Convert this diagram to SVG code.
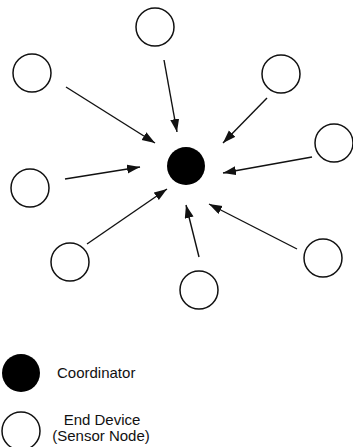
<svg xmlns="http://www.w3.org/2000/svg" width="353" height="447" viewBox="0 0 353 447">
  <style>
    .end { fill: #fff; stroke: #111; stroke-width: 1.5; }
    .coord { fill: #000; }
    .link { stroke: #111; stroke-width: 1.4; fill: none; marker-end: url(#head); }
    .label { font-family: "Liberation Sans", Arial, sans-serif; font-size: 15px; fill: #111; }
  </style>
  <defs>
    <marker id="head" markerUnits="userSpaceOnUse" markerWidth="14" markerHeight="10" refX="13" refY="4.5" orient="auto">
      <path d="M0,0 L13,4.5 L0,9 z" fill="#111"/>
    </marker>
  </defs>
  <rect width="353" height="447" fill="#fff"/>

  <!-- connectors: every end device reports to the coordinator -->
  <g id="connectors">
    <line class="link" x1="66" y1="87" x2="155" y2="143"/>
    <line class="link" x1="164" y1="60" x2="177" y2="132"/>
    <line class="link" x1="267" y1="98" x2="223" y2="143"/>
    <line class="link" x1="312" y1="157" x2="223" y2="173"/>
    <line class="link" x1="65" y1="179" x2="140" y2="167"/>
    <line class="link" x1="87" y1="244" x2="167" y2="189"/>
    <line class="link" x1="199" y1="257" x2="186" y2="205"/>
    <line class="link" x1="297" y1="249" x2="209" y2="204"/>
  </g>

  <!-- star network nodes -->
  <g id="coordinator"><circle class="coord" cx="186" cy="166" r="19"/></g>
  <g id="end-top"><circle class="end" cx="155" cy="27" r="19"/></g>
  <g id="end-top-left"><circle class="end" cx="32" cy="73" r="19"/></g>
  <g id="end-top-right"><circle class="end" cx="281" cy="74" r="19"/></g>
  <g id="end-right"><circle class="end" cx="334" cy="143" r="19"/></g>
  <g id="end-left"><circle class="end" cx="30" cy="188" r="19"/></g>
  <g id="end-bottom-left"><circle class="end" cx="70" cy="262" r="19"/></g>
  <g id="end-bottom"><circle class="end" cx="199" cy="290" r="19"/></g>
  <g id="end-bottom-right"><circle class="end" cx="323" cy="258" r="19"/></g>

  <!-- legend -->
  <g id="legend-coordinator">
    <circle class="coord" cx="21" cy="373" r="19"/>
    <text class="label" x="57" y="378">Coordinator</text>
  </g>
  <g id="legend-end-device">
    <circle class="end" cx="21" cy="431" r="19"/>
    <text class="label" x="102" y="425" text-anchor="middle">End Device</text>
    <text class="label" x="101" y="441" text-anchor="middle">(Sensor Node)</text>
  </g>
</svg>
